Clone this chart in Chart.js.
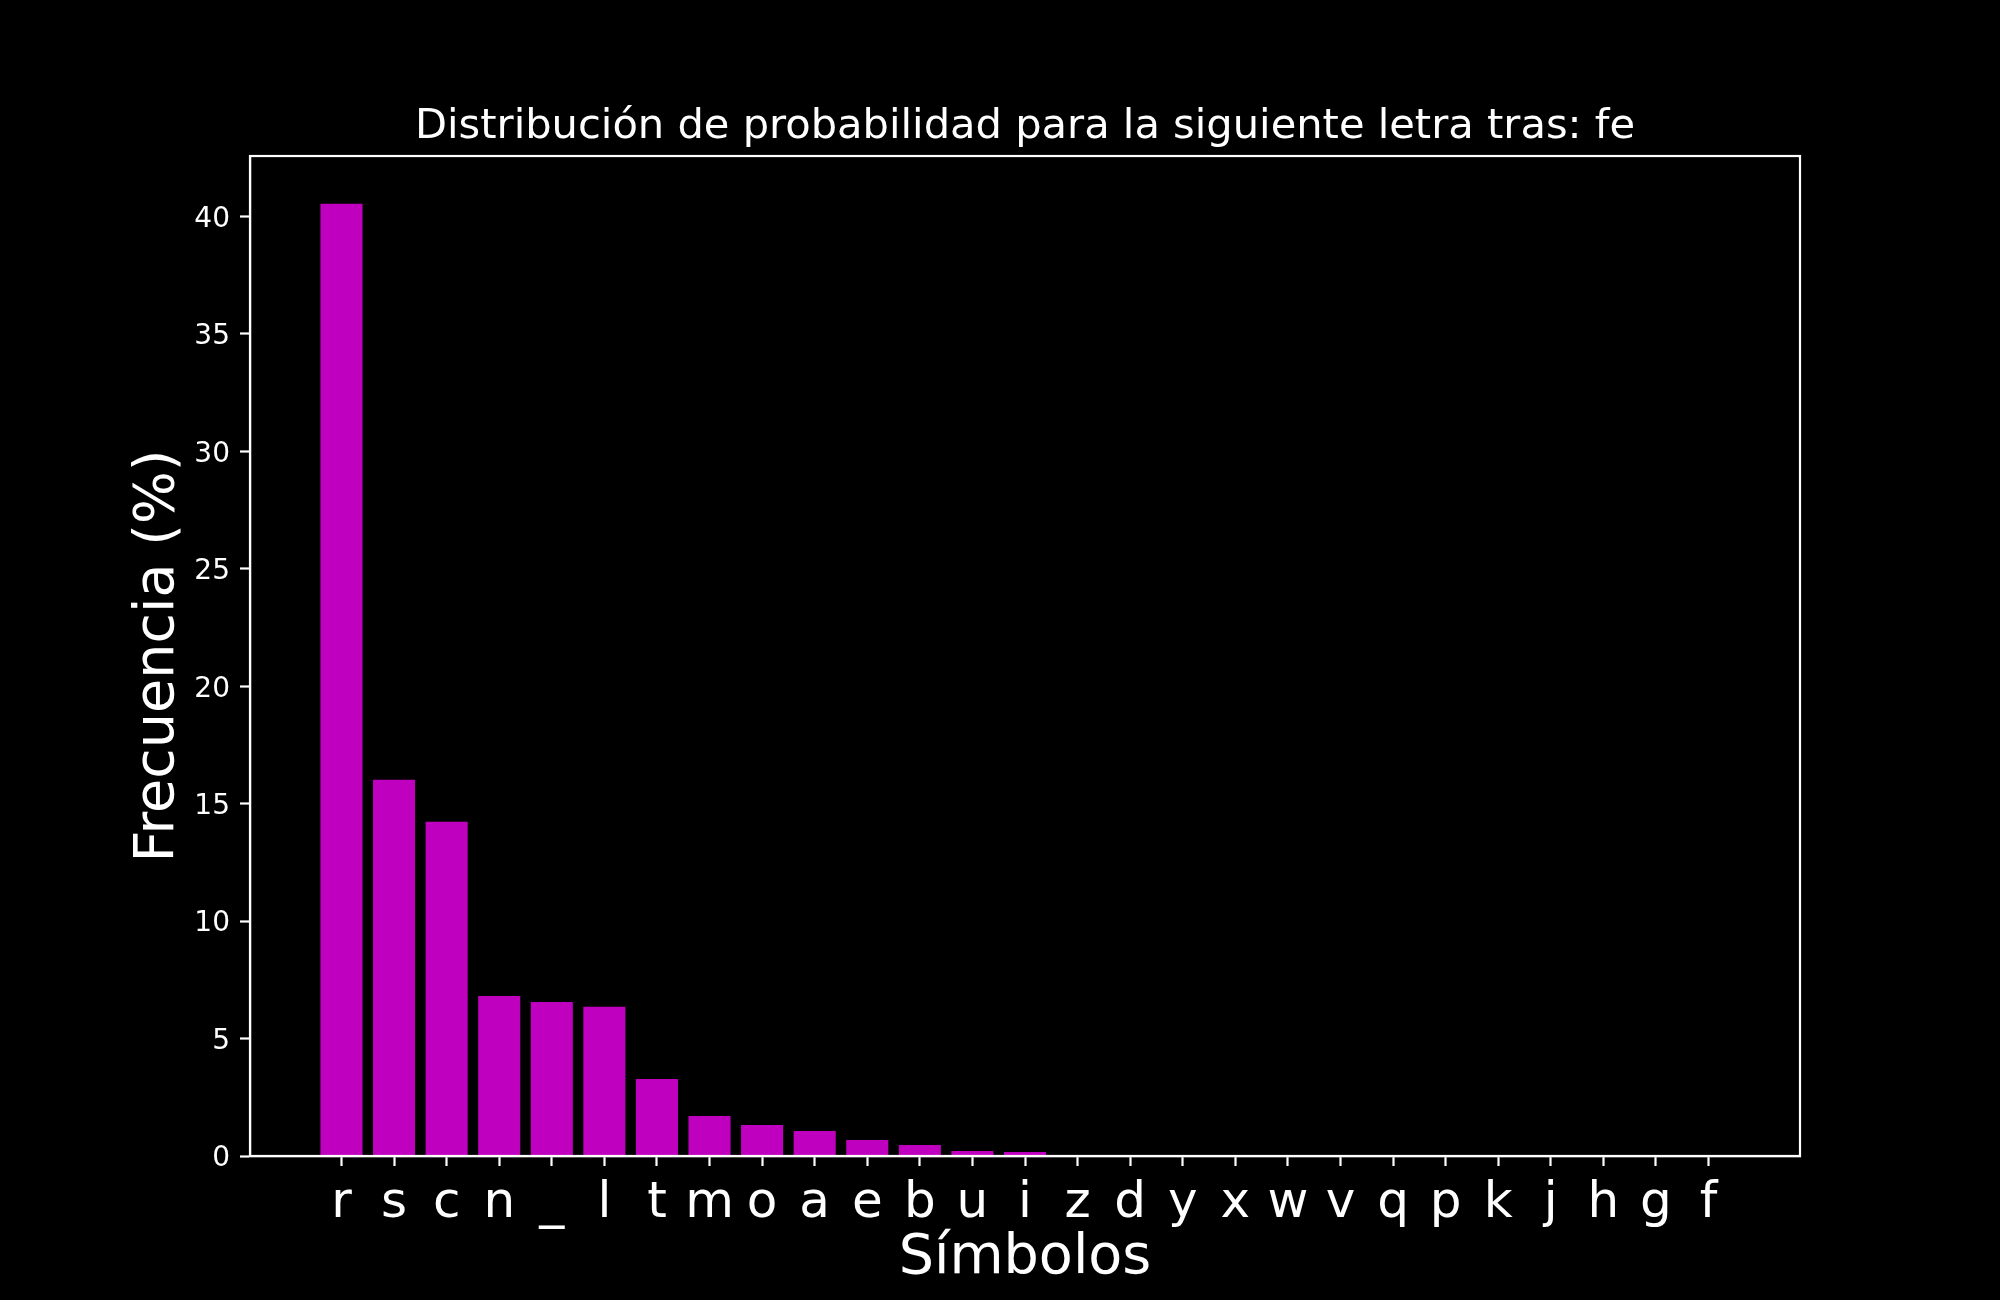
<!DOCTYPE html>
<html>
<head>
<meta charset="utf-8">
<script src="https://cdn.jsdelivr.net/npm/chart.js@4"></script>
<style>
  html, body { margin: 0; padding: 0; background: #000; }
  canvas { display: block; }
</style>
</head>
<body>
<canvas id="c" width="2000" height="1300" style="width:2000px;height:1300px"></canvas>
<script>
const symbols = ['r','s','c','n','_','l','t','m','o','a','e','b','u','i','z','d','y','x','w','v','q','p','k','j','h','g','f'];
const frequencies = [40.55, 16.02, 14.23, 6.81, 6.56, 6.35, 3.28, 1.70, 1.32, 1.06, 0.68, 0.47, 0.21, 0.17, 0, 0, 0, 0, 0, 0, 0, 0, 0, 0, 0, 0, 0];
const yTickValues = [0, 5, 10, 15, 20, 25, 30, 35, 40];
const titleText = 'Distribución de probabilidad para la siguiente letra tras: fe';
const xLabel = 'Símbolos';
const yLabel = 'Frecuencia (%)';

const FONT = "'DejaVu Sans', sans-serif";
const barColor = '#bf00bf';

const dataPoints = frequencies.map((v, i) => ({ x: i, y: v }));
const xMin = -0.4 - 0.05 * (symbols.length - 1 + 0.8);
const xMax = symbols.length - 1 + 0.4 + 0.05 * (symbols.length - 1 + 0.8);
const yMax = Math.max(...frequencies) * 1.05;

const framePlugin = {
  id: 'frame',
  beforeDraw(chart) {
    const ctx = chart.ctx;
    ctx.save();
    ctx.fillStyle = '#000';
    ctx.fillRect(0, 0, chart.width, chart.height);
    ctx.restore();
  },
  afterDraw(chart) {
    const a = chart.chartArea;
    const ctx = chart.ctx;
    ctx.save();
    ctx.strokeStyle = '#fff';
    ctx.lineWidth = 2.2;
    ctx.strokeRect(a.left, a.top, a.right - a.left, a.bottom - a.top);
    ctx.restore();
  }
};

new Chart(document.getElementById('c'), {
  type: 'bar',
  data: {
    datasets: [{
      data: dataPoints,
      backgroundColor: barColor,
      borderWidth: 0,
      barPercentage: 0.8,
      categoryPercentage: 1.0
    }]
  },
  options: {
    responsive: false,
    animation: false,
    devicePixelRatio: 1,
    layout: { padding: { left: 0, right: 200, top: 0, bottom: 0 } },
    plugins: {
      legend: { display: false },
      tooltip: { enabled: false },
      title: {
        display: true,
        text: titleText,
        color: '#fff',
        fullSize: false,
        font: { family: FONT, size: 41.6, weight: 'normal', lineHeight: 1.2 },
        padding: { top: 102, bottom: 4.1 }
      }
    },
    scales: {
      x: {
        type: 'linear',
        min: xMin,
        max: xMax,
        offset: false,
        afterBuildTicks(scale) { scale.ticks = symbols.map((_, i) => ({ value: i })); },
        afterFit(scale) { scale.height = 144; },
        ticks: {
          color: '#fff',
          autoSkip: false,
          maxRotation: 0,
          minRotation: 0,
          padding: 8,
          font: { family: FONT, size: 50 },
          callback: (v) => symbols[v]
        },
        grid: {
          display: true,
          offset: false,
          drawOnChartArea: false,
          drawTicks: true,
          tickLength: 10,
          tickWidth: 2.2,
          tickColor: '#fff'
        },
        border: { display: true, color: '#fff', width: 2.2 },
        title: {
          display: true,
          text: xLabel,
          color: '#fff',
          font: { family: FONT, size: 55.6, lineHeight: 1.2 },
          padding: { top: 0, bottom: 8 }
        }
      },
      y: {
        type: 'linear',
        min: 0,
        max: yMax,
        afterBuildTicks(scale) { scale.ticks = yTickValues.map(v => ({ value: v })); },
        afterFit(scale) { scale.width = 250; },
        ticks: {
          color: '#fff',
          padding: 10,
          labelOffset: 3,
          font: { family: FONT, size: 28 },
          callback: (v) => String(v)
        },
        grid: {
          display: true,
          offset: false,
          drawOnChartArea: false,
          drawTicks: true,
          tickLength: 10,
          tickWidth: 2.2,
          tickColor: '#fff'
        },
        border: { display: true, color: '#fff', width: 2.2 },
        title: {
          display: true,
          text: yLabel,
          color: '#fff',
          font: { family: FONT, size: 55.6, lineHeight: 1.2 },
          padding: { top: 125, bottom: 0 }
        }
      }
    }
  },
  plugins: [framePlugin]
});
</script>
</body>
</html>
